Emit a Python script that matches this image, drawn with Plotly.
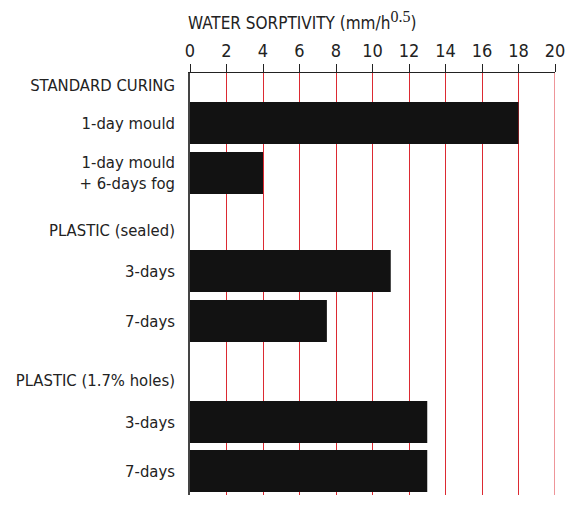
import plotly.graph_objects as go

# Data
row_labels = ["STANDARD CURING", "1-day mould", "1-day mould<br>+ 6-days fog",
              "PLASTIC (sealed)", "3-days", "7-days",
              "PLASTIC (1.7% holes)", "3-days", "7-days"]
sorptivity = [None, 18, 4, None, 11, 7.5, None, 13, 13]
x_ticks = [0, 2, 4, 6, 8, 10, 12, 14, 16, 18, 20]

# Layout: vertical placement of rows (in axis units, top = 0)
row_pos = [12, 50, 100, 157, 198, 248, 307, 349, 398]

FONT = "DejaVu Sans"
COND = "<span style='font-stretch:condensed'>{}</span>"
GRID = "#dc2a32"

def cond(s):
    return "<br>".join(COND.format(p) for p in s.split("<br>"))

bar_y = [p for p, v in zip(row_pos, sorptivity) if v is not None]
bar_x = [v for v in sorptivity if v is not None]

fig = go.Figure()
fig.add_trace(go.Bar(
    x=bar_x, y=bar_y, orientation="h", width=42,
    marker=dict(color="#121212", line=dict(width=0)),
    hoverinfo="x",
))

fig.update_layout(
    width=574, height=511,
    margin=dict(l=190, r=19, t=73, b=16),
    paper_bgcolor="white", plot_bgcolor="white",
    showlegend=False,
    font=dict(family=FONT, size=16, color="#222"),
    xaxis=dict(
        side="top", range=[x_ticks[0], x_ticks[-1]], tickvals=x_ticks,
        ticktext=[cond(str(t)) for t in x_ticks],
        showgrid=True, gridcolor=GRID, gridwidth=1,
        showline=True, linecolor="#222", linewidth=1,
        ticks="outside", ticklen=8, tickcolor="#222", tickwidth=1,
        tickfont=dict(family=FONT, size=18, color="#222"),
        zeroline=False, fixedrange=True, automargin=False,
    ),
    yaxis=dict(
        range=[422, 0], tickvals=row_pos, ticktext=[cond(s) for s in row_labels],
        showgrid=False, zeroline=False,
        showline=True, linecolor="#444", linewidth=1.5,
        ticks="", ticklabelstandoff=10,
        tickfont=dict(family=FONT, size=16.5, color="#222"),
        fixedrange=True, automargin=False,
    ),
    shapes=[dict(type="line", xref="x", yref="paper", x0=x_ticks[-1], x1=x_ticks[-1],
                 y0=0, y1=1, line=dict(color=GRID, width=1), layer="below")],
    annotations=[dict(
        text=cond("WATER SORPTIVITY (mm/h")
             + "<sup><span style='font-family:Liberation Serif, serif;font-size:16px'>0.5</span></sup>"
             + cond(")"),
        xref="paper", yref="paper", x=-0.011, y=1, yshift=38,
        xanchor="left", yanchor="bottom", showarrow=False,
        font=dict(family=FONT, size=17, color="#222"),
    )],
)

fig.write_html("out.html", config={"displayModeBar": False},
               post_script="document.body.style.margin='0';")
